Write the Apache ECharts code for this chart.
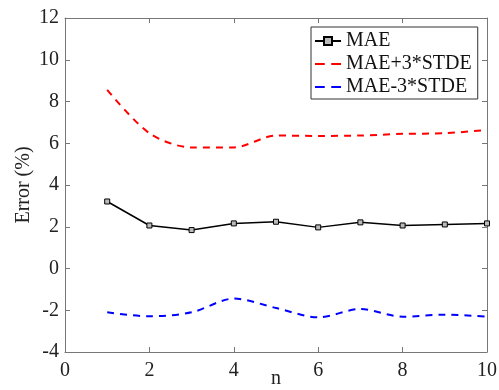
<!DOCTYPE html>
<html><head><meta charset="utf-8">
<script src="https://cdn.jsdelivr.net/npm/echarts@6/dist/echarts.min.js"></script>
<style>html,body{margin:0;padding:0;background:#fff}#c{width:499px;height:390px}</style>
</head><body><div id="c"></div>
<script>
var nValues = [1,2,3,4,5,6,7,8,9,10];
var mae = [3.21,2.06,1.84,2.16,2.24,1.97,2.21,2.06,2.11,2.16];
var maePlus = [8.56,6.48,5.80,5.80,6.37,6.35,6.37,6.45,6.48,6.64];
var maeMinus = [-2.10,-2.29,-2.10,-1.44,-1.89,-2.34,-1.94,-2.31,-2.21,-2.31];
var xTicks = [0,2,4,6,8,10];
var yTicks = [-4,-2,0,2,4,6,8,10,12];

function pairs(ys){return nValues.map(function(x,i){return [x,ys[i]];});}
var font = 'Liberation Serif';
var chart = echarts.init(document.getElementById('c'));
var axisCommon = {
  axisLine:{show:true,onZero:false,lineStyle:{color:'#777',width:1}},
  axisTick:{show:true,inside:true,length:5,lineStyle:{color:'#777'}},
  splitLine:{show:false}
};
var dashIcon = 'path://M0,0h9v2h-9zM15,0h9v2h-9z';
chart.setOption({
  animation:false,
  backgroundColor:'#fff',
  grid:{left:65,right:12,top:18,bottom:38,containLabel:false,outerBoundsMode:'none'},
  legend:{
    orient:'vertical',left:311,top:27,
    padding:[4,6,2,3],itemGap:3,itemWidth:26,itemHeight:10,
    borderColor:'#333',borderWidth:1,backgroundColor:'#fff',
    textStyle:{fontFamily:font,fontSize:20,color:'#111',lineHeight:20},
    data:[{name:'MAE'},{name:'MAE+3*STDE',icon:dashIcon,itemStyle:{color:'#ff0000'}},{name:'MAE-3*STDE',icon:dashIcon,itemStyle:{color:'#0000ff'}}]
  },
  xAxis:[
    Object.assign({type:'value',min:0,max:10,interval:2,position:'bottom',
      name:'n',nameLocation:'middle',nameGap:17,nameMoveOverlap:false,
      nameTextStyle:{fontFamily:font,fontSize:20,color:'#222'},
      axisLabel:{fontFamily:font,fontSize:20,color:'#222',margin:9}},axisCommon),
    Object.assign({type:'value',min:0,max:10,interval:2,position:'top',axisLabel:{show:false}},axisCommon)
  ],
  yAxis:[
    Object.assign({type:'value',min:-4,max:12,interval:2,position:'left',
      name:'Error (%)',nameLocation:'middle',nameGap:31,nameMoveOverlap:false,
      nameTextStyle:{fontFamily:font,fontSize:20,color:'#222'},
      axisLabel:{fontFamily:font,fontSize:20,color:'#222',margin:6}},axisCommon),
    Object.assign({type:'value',min:-4,max:12,interval:2,position:'right',axisLabel:{show:false}},axisCommon)
  ],
  series:[
    {name:'MAE',type:'line',data:pairs(mae),symbol:'rect',symbolSize:5,showSymbol:true,
      lineStyle:{color:'#000',width:1.5},itemStyle:{color:'#bbb',borderColor:'#000',borderWidth:1}},
    {name:'MAE+3*STDE',type:'line',data:pairs(maePlus),symbol:'none',smooth:0.3,
      lineStyle:{color:'#ff0000',width:2,type:[7,6]},itemStyle:{color:'#ff0000'}},
    {name:'MAE-3*STDE',type:'line',data:pairs(maeMinus),symbol:'none',smooth:0.3,
      lineStyle:{color:'#0000ff',width:2,type:[7,6]},itemStyle:{color:'#0000ff'}}
  ]
});
</script></body></html>
